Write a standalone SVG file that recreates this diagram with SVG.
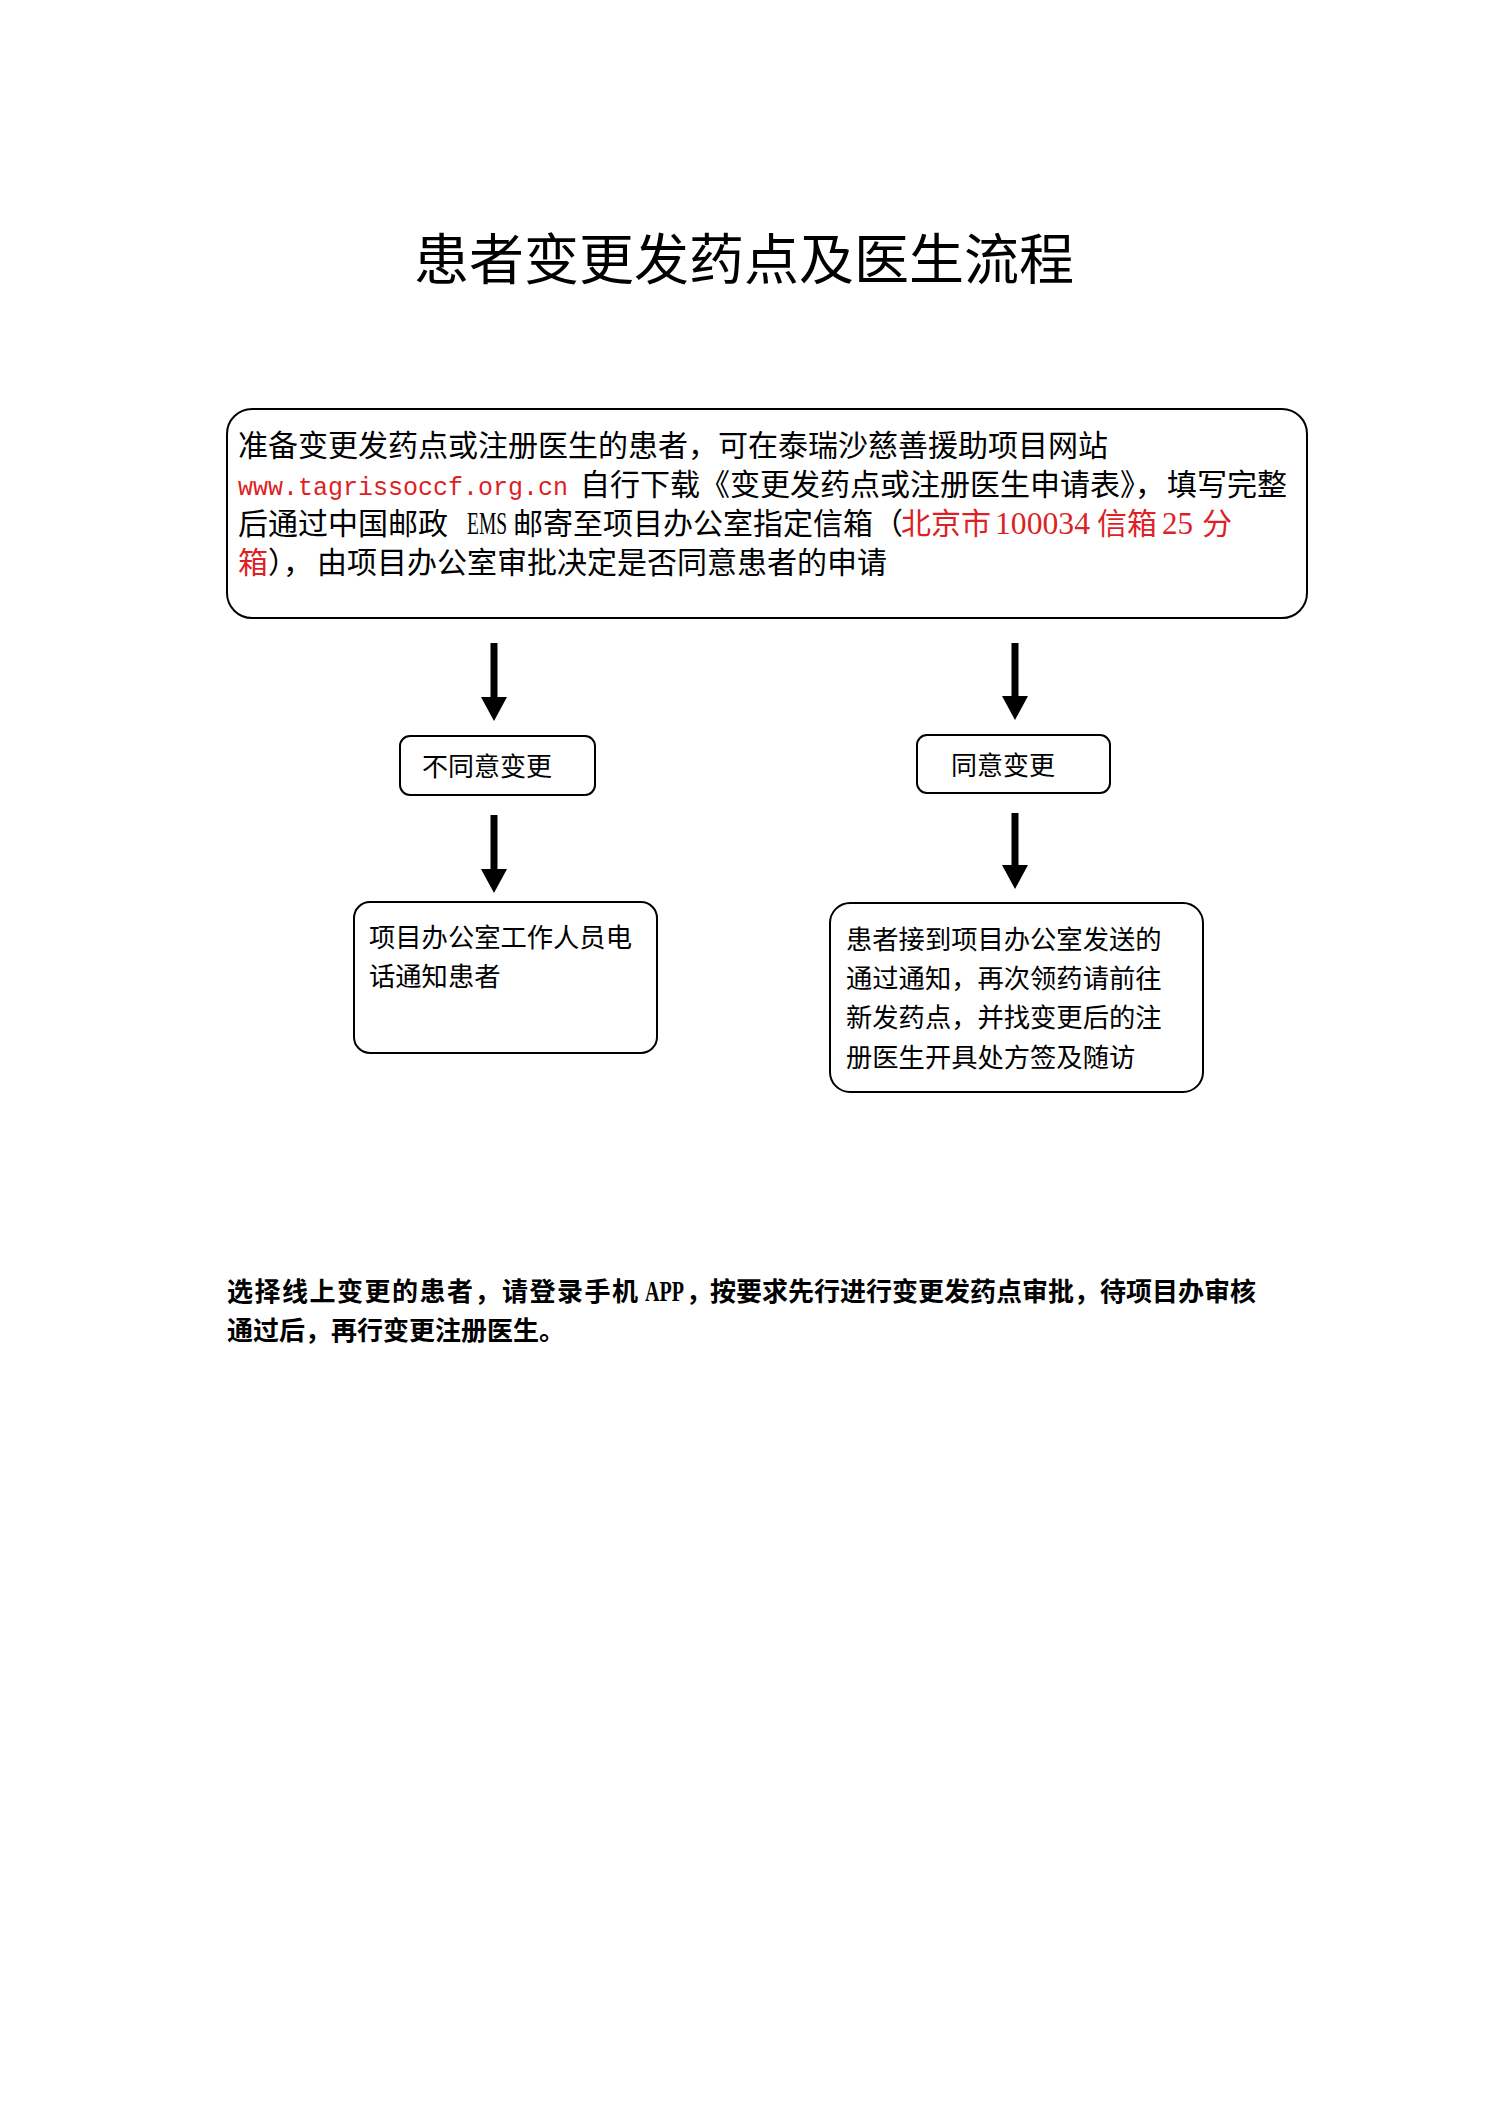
<svg xmlns="http://www.w3.org/2000/svg" width="1488" height="2104" viewBox="0 0 1488 2104">
<defs>
<style>
.cjk{font-family:"Noto Sans CJK SC","Noto Sans",sans-serif;fill:#000}
.box{fill:#fff;stroke:#000;stroke-width:2}
.red{fill:#DD1F26}
.lat{font-family:"Liberation Serif",serif}
.mono{font-family:"Liberation Mono",monospace}
.conn{stroke:#000;stroke-width:7;fill:none}
</style>
<marker id="ah" markerUnits="userSpaceOnUse" markerWidth="24" markerHeight="26" viewBox="0 0 24 26" refX="1" refY="13" orient="auto">
<path d="M0,0 L24,13 L0,26 Z" fill="#000"/>
</marker>
</defs>
<rect width="1488" height="2104" fill="#fff"/>
<text id="title" class="cjk" x="414" y="279" font-size="55">患者变更发药点及医生流程</text>

<g id="connectors">
<line class="conn" x1="494" y1="643" x2="494" y2="698" marker-end="url(#ah)"/>
<line class="conn" x1="1015" y1="643" x2="1015" y2="697" marker-end="url(#ah)"/>
<line class="conn" x1="494" y1="815" x2="494" y2="870" marker-end="url(#ah)"/>
<line class="conn" x1="1015" y1="813" x2="1015" y2="866" marker-end="url(#ah)"/>
</g>

<g id="node-apply">
<rect class="box" x="227" y="409" width="1080" height="209" rx="25" ry="25"/>
<text class="cjk" font-size="30">
<tspan x="238" y="456">准备变更发药点或注册医生的患者，可在泰瑞沙慈善援助项目网站</tspan>
<tspan x="238" y="495" class="mono red" font-size="26" textLength="330" lengthAdjust="spacingAndGlyphs">www.tagrissoccf.org.cn</tspan>
<tspan x="580" y="495">自行下载《变更发药点或注册医生申请表》，</tspan>
<tspan x="1167" y="495">填写完整</tspan>
<tspan x="238" y="534">后通过中国邮政</tspan>
<tspan x="467" y="534" class="lat" font-size="32" textLength="40" lengthAdjust="spacingAndGlyphs">EMS</tspan>
<tspan x="513" y="534">邮寄至项目办公室指定信箱（</tspan>
<tspan x="901" y="534" class="red">北京市</tspan>
<tspan x="995" y="534" class="lat red" font-size="31" textLength="95" lengthAdjust="spacingAndGlyphs">100034</tspan>
<tspan x="1097" y="534" class="red">信箱</tspan>
<tspan x="1162" y="534" class="lat red" font-size="31" textLength="31" lengthAdjust="spacingAndGlyphs">25</tspan>
<tspan x="1202" y="534" class="red">分</tspan>
<tspan x="238" y="573" class="red">箱</tspan>
<tspan x="268" y="573">），</tspan>
<tspan x="317" y="573">由项目办公室审批决定是否同意患者的申请</tspan>
</text>
</g>

<g id="node-reject">
<rect class="box" x="400" y="736" width="195" height="59" rx="10" ry="10"/>
<text class="cjk" x="422" y="776" font-size="26">不同意变更</text>
</g>

<g id="node-approve">
<rect class="box" x="917" y="735" width="193" height="58" rx="10" ry="10"/>
<text class="cjk" x="951" y="775" font-size="26">同意变更</text>
</g>

<g id="node-notify">
<rect class="box" x="354" y="902" width="303" height="151" rx="16" ry="16"/>
<text class="cjk" font-size="26.3">
<tspan x="369" y="947">项目办公室工作人员电</tspan>
<tspan x="369" y="986">话通知患者</tspan>
</text>
</g>

<g id="node-receive">
<rect class="box" x="830" y="903" width="373" height="189" rx="20" ry="20"/>
<text class="cjk" font-size="26.3">
<tspan x="846" y="949">患者接到项目办公室发送的</tspan>
<tspan x="846" y="988">通过通知，再次领药请前往</tspan>
<tspan x="846" y="1027">新发药点，并找变更后的注</tspan>
<tspan x="846" y="1067">册医生开具处方签及随访</tspan>
</text>
</g>

<g id="note">
<text class="cjk" font-size="26" font-weight="bold">
<tspan x="227" y="1301" textLength="411" lengthAdjust="spacing">选择线上变更的患者，请登录手机</tspan>
<tspan x="645" y="1301" class="lat" font-size="29" textLength="39" lengthAdjust="spacingAndGlyphs">APP</tspan>
<tspan x="686" y="1301">，</tspan>
<tspan x="710" y="1301">按要求先行进行变更发药点审批，待项目办审核</tspan>
<tspan x="227" y="1340">通过后，再行变更注册医生。</tspan>
</text>
</g>
</svg>
